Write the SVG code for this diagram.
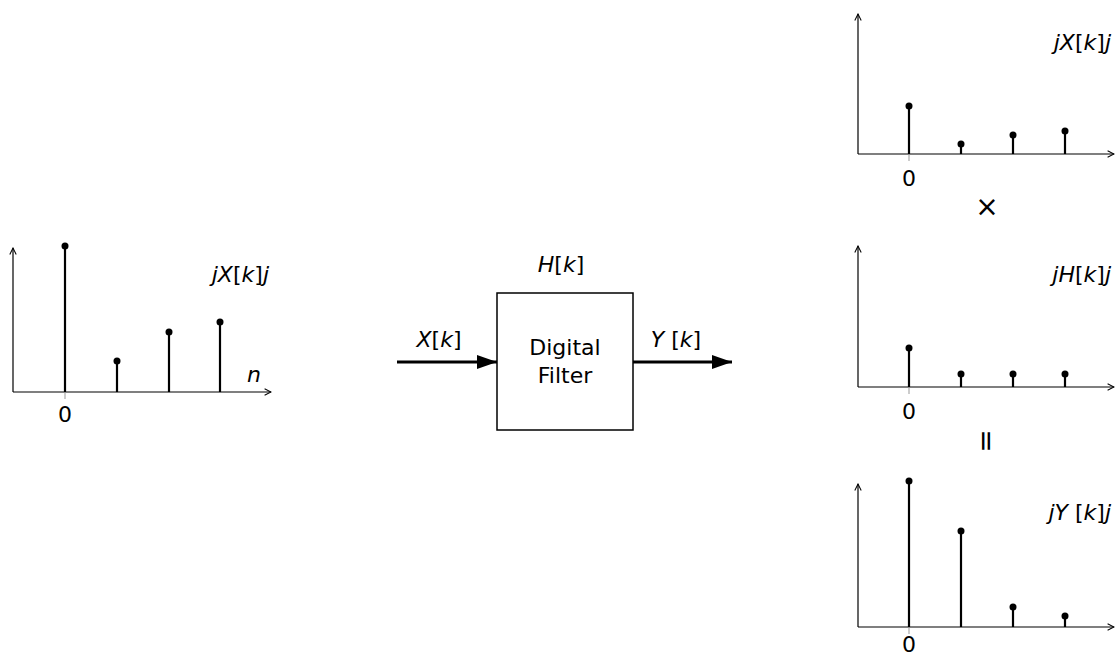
<svg xmlns="http://www.w3.org/2000/svg" width="1115" height="657" viewBox="0 0 1115 657">
<style>
text{font-family:"DejaVu Sans",sans-serif;font-size:22px;fill:#000}
.i{font-style:italic}
.ax{stroke:#000;stroke-width:1.2;fill:none}
.st{stroke:#000;stroke-width:2.2}
.tk{stroke:#999;stroke-width:1}
.dot{fill:#000}
.thick{stroke:#000;stroke-width:3;fill:none}
.op{font-size:28px}
</style>
<defs>
<marker id="open" viewBox="0 0 10 10" refX="9" refY="5" markerWidth="8" markerHeight="8" markerUnits="userSpaceOnUse" orient="auto">
<path d="M1,1 L9,5 L1,9" fill="none" stroke="#000" stroke-width="1.3"/>
</marker>
<marker id="solid" viewBox="0 0 10 10" refX="10" refY="5" markerWidth="20" markerHeight="14" markerUnits="userSpaceOnUse" orient="auto" preserveAspectRatio="none">
<path d="M0,0 L10,5 L0,10 Z" fill="#000"/>
</marker>
</defs>

<g id="plot-input">
<line class="ax" x1="13" y1="392" x2="13" y2="248" marker-end="url(#open)"/>
<line class="ax" x1="13" y1="392" x2="271" y2="392" marker-end="url(#open)"/>
<line class="tk" x1="65" y1="392" x2="65" y2="399"/>
<line class="st" x1="65" y1="392" x2="65" y2="246"/><circle class="dot" cx="65" cy="246" r="3.5"/>
<line class="st" x1="117" y1="392" x2="117" y2="361"/><circle class="dot" cx="117" cy="361" r="3.5"/>
<line class="st" x1="169" y1="392" x2="169" y2="332"/><circle class="dot" cx="169" cy="332" r="3.5"/>
<line class="st" x1="220" y1="392" x2="220" y2="322"/><circle class="dot" cx="220" cy="322" r="3.5"/>
<text x="65" y="422" text-anchor="middle">0</text>
<text x="247" y="382" class="i">n</text>
<text x="269" y="282" text-anchor="end"><tspan class="i">jX</tspan>[<tspan class="i">k</tspan>]<tspan class="i">j</tspan></text>
</g>

<g id="filter">
<rect x="497" y="293" width="136" height="137" fill="#fff" stroke="#000" stroke-width="1.5"/>
<text x="565" y="355" text-anchor="middle">Digital</text>
<text x="565" y="383" text-anchor="middle">Filter</text>
<text x="561" y="272" text-anchor="middle"><tspan class="i">H</tspan>[<tspan class="i">k</tspan>]</text>
</g>

<g id="connectors">
<line class="thick" x1="397" y1="362" x2="497" y2="362" marker-end="url(#solid)"/>
<line class="thick" x1="633" y1="362" x2="732" y2="362" marker-end="url(#solid)"/>
<text x="439" y="347" text-anchor="middle"><tspan class="i">X</tspan>[<tspan class="i">k</tspan>]</text>
<text x="676" y="347" text-anchor="middle"><tspan class="i">Y</tspan> [<tspan class="i">k</tspan>]</text>
</g>

<g id="plot-x">
<line class="ax" x1="858" y1="154" x2="858" y2="14" marker-end="url(#open)"/>
<line class="ax" x1="858" y1="154" x2="1114" y2="154" marker-end="url(#open)"/>
<line class="tk" x1="909" y1="154" x2="909" y2="161"/>
<line class="st" x1="909" y1="154" x2="909" y2="106"/><circle class="dot" cx="909" cy="106" r="3.5"/>
<line class="st" x1="961" y1="154" x2="961" y2="144"/><circle class="dot" cx="961" cy="144" r="3.5"/>
<line class="st" x1="1013" y1="154" x2="1013" y2="135"/><circle class="dot" cx="1013" cy="135" r="3.5"/>
<line class="st" x1="1065" y1="154" x2="1065" y2="131"/><circle class="dot" cx="1065" cy="131" r="3.5"/>
<text x="909" y="186" text-anchor="middle">0</text>
<text x="1111" y="50" text-anchor="end"><tspan class="i">jX</tspan>[<tspan class="i">k</tspan>]<tspan class="i">j</tspan></text>
</g>

<text id="times" class="op" x="987" y="216" text-anchor="middle">×</text>

<g id="plot-h">
<line class="ax" x1="858" y1="387" x2="858" y2="246" marker-end="url(#open)"/>
<line class="ax" x1="858" y1="387" x2="1114" y2="387" marker-end="url(#open)"/>
<line class="tk" x1="909" y1="387" x2="909" y2="394"/>
<line class="st" x1="909" y1="387" x2="909" y2="348"/><circle class="dot" cx="909" cy="348" r="3.5"/>
<line class="st" x1="961" y1="387" x2="961" y2="374"/><circle class="dot" cx="961" cy="374" r="3.5"/>
<line class="st" x1="1013" y1="387" x2="1013" y2="374"/><circle class="dot" cx="1013" cy="374" r="3.5"/>
<line class="st" x1="1065" y1="387" x2="1065" y2="374"/><circle class="dot" cx="1065" cy="374" r="3.5"/>
<text x="909" y="419" text-anchor="middle">0</text>
<text x="1111" y="282" text-anchor="end"><tspan class="i">jH</tspan>[<tspan class="i">k</tspan>]<tspan class="i">j</tspan></text>
</g>

<text id="equals" class="op" x="0" y="0" text-anchor="middle" transform="translate(987,441) rotate(90) translate(0,10)">=</text>

<g id="plot-y">
<line class="ax" x1="858" y1="627" x2="858" y2="484" marker-end="url(#open)"/>
<line class="ax" x1="858" y1="627" x2="1114" y2="627" marker-end="url(#open)"/>
<line class="tk" x1="909" y1="627" x2="909" y2="634"/>
<line class="st" x1="909" y1="627" x2="909" y2="481"/><circle class="dot" cx="909" cy="481" r="3.5"/>
<line class="st" x1="961" y1="627" x2="961" y2="531"/><circle class="dot" cx="961" cy="531" r="3.5"/>
<line class="st" x1="1013" y1="627" x2="1013" y2="607"/><circle class="dot" cx="1013" cy="607" r="3.5"/>
<line class="st" x1="1065" y1="627" x2="1065" y2="616"/><circle class="dot" cx="1065" cy="616" r="3.5"/>
<text x="909" y="652" text-anchor="middle">0</text>
<text x="1111" y="520" text-anchor="end"><tspan class="i">jY</tspan> [<tspan class="i">k</tspan>]<tspan class="i">j</tspan></text>
</g>
</svg>
